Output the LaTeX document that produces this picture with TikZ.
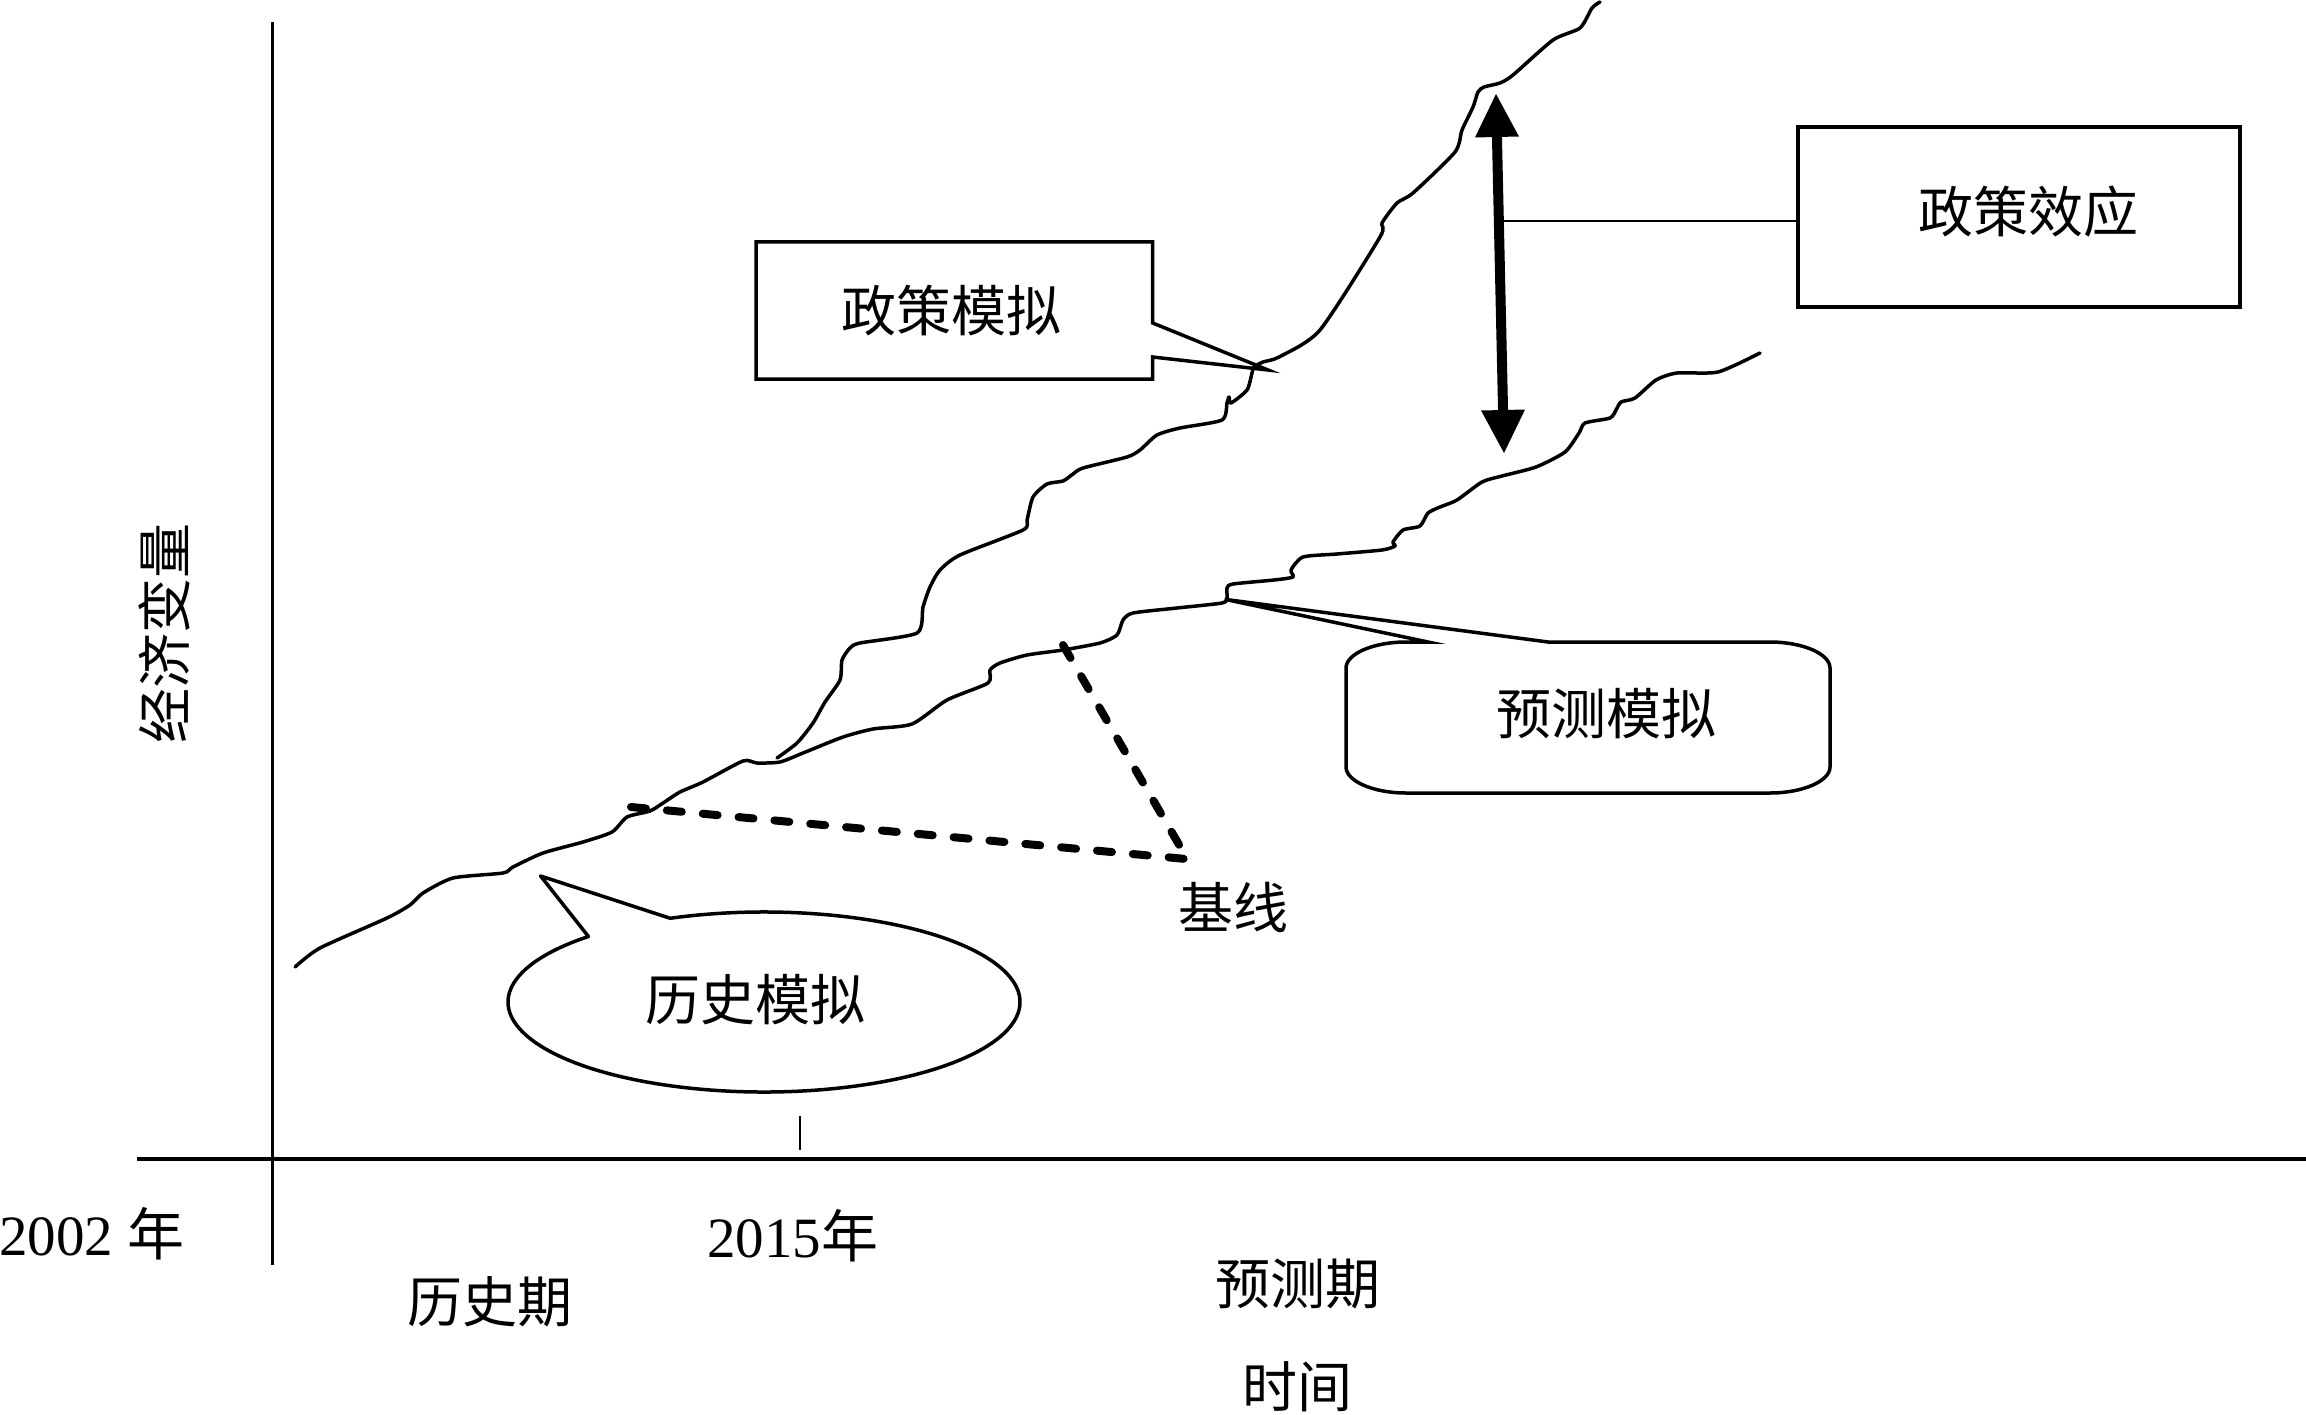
\documentclass[tikz,border=0pt]{standalone}
\usepackage{fontspec}
\setmainfont{Liberation Serif}
\newfontfamily\cjk{Noto Sans CJK SC}
\usetikzlibrary{arrows.meta,shapes.geometric,calc}
\begin{document}
\begin{tikzpicture}[x=1pt,y=-1pt,
  curve/.style={line width=3.5pt, line join=round, line cap=round},
  callout/.style={line width=3.5pt, line join=miter},
  cjklabel/.style={font=\cjk\fontsize{55}{60}\selectfont, inner sep=0pt},
  numlabel/.style={font=\fontsize{57}{60}\selectfont, inner sep=0pt},
  basedash/.style={line width=8pt, line cap=round, dash pattern=on 15pt off 21pt},
]
\useasboundingbox (0,0) rectangle (2306,1415);

% axes
\coordinate (ytop) at (272,22);
\coordinate (ybot) at (272,1265);
\coordinate (xl) at (137,1159);
\coordinate (xr) at (2306,1159);
\draw[line width=3pt] (ytop) -- (ybot);
\draw[line width=4.5pt] (xl) -- (xr);
\coordinate (tk1) at (800,1116);
\coordinate (tk2) at (800,1150);
\draw[line width=2.5pt] (tk1) -- (tk2);

% axis labels
\node[numlabel, anchor=base west] (y2002) at (-1,1255) {2002 {\cjk 年}};
\node[numlabel, anchor=base west] (y2015) at (707,1257) {2015{\cjk 年}};
\node[cjklabel] (histp) at (490,1302) {历史期};
\node[cjklabel] (forep) at (1298,1284) {预测期};
\node[cjklabel] (timel) at (1297,1387) {时间};
\node[cjklabel, rotate=90] (econ) at (164,633) {经济变量};
\node[cjklabel] (basel) at (1233,907) {基线};

% policy simulation callout
\draw[callout] (756,242) -- (1152.7,242) -- (1152.7,323) -- (1268,370) -- (1152.7,357) -- (1152.7,379) -- (756,379) -- cycle;
\node[cjklabel] (polsim) at (951,311) {政策模拟};

% policy effect box
\node[draw, line width=4pt, minimum width=442pt, minimum height=180pt, inner sep=0pt] (effbox) at (2019,217) {};
\node[cjklabel] (eff) at (2028,212) {政策效应};

% double arrow
\coordinate (atop) at (1496,94);
\coordinate (abot) at (1504,453);
\draw[line width=10pt, {Triangle[width=44pt,length=43pt,line width=0pt]}-{Triangle[width=44pt,length=43pt,line width=0pt]}] (atop) -- (abot);
\coordinate (amid) at (1502,221);
\draw[line width=2.5pt] (amid) -- (amid -| effbox.west);

% forecast simulation callout
\draw[callout] (1548,642) -- (1770,642) .. controls (1803,642) and (1830,654) .. (1830,668) -- (1830,767) .. controls (1830,781) and (1803,793) .. (1770,793) -- (1406,793) .. controls (1373,793) and (1346,781) .. (1346,767) -- (1346,668) .. controls (1346,654) and (1373,642) .. (1406,642) -- (1428,642) -- (1224.6,599.3) -- cycle;
\node[cjklabel] (forsim) at (1606,714) {预测模拟};

% history simulation callout (ellipse with pointer)
\coordinate (hcen) at (764,1002);
\coordinate (htip) at (540.6,876);
\coordinate (hb) at ($(hcen)+(248.5:256 and 90)$);
\draw[callout, line join=round] (hb)
  arc[start angle=248.5, end angle=586.7, x radius=256, y radius=90] -- (htip) -- cycle;
\node[cjklabel] (histsim) at (755,1000) {历史模拟};

% baseline dashed lines
\coordinate (b1) at (631,807);
\coordinate (b2) at (1186,859);
\coordinate (b3) at (1063,645);
\coordinate (b4) at (1185,855);
\draw[basedash] (b1) -- (b2);
\draw[basedash] (b3) -- (b4);

% lower curve
\draw[curve] plot[smooth, tension=0.4] coordinates {
(295,967) (320,948) (387,918) (410,905) (423,893) (453,878) (503,873) (513,867) (543,853) (583,842) (612,832) (627,817) (650,811) (663,803) (680,792) (703,782) (743,761) (757,763) (780,762) (803,753) (843,737) (873,729) (912,724) (947,700) (988,683) (990,670) (1000,663) (1027,655) (1063,650) (1100,643) (1117,635) (1123,620) (1133,613) (1177,608) (1222,603) (1227,598) (1227,588) (1233,584) (1274,580) (1293,577) (1291,570) (1303,557) (1337,554) (1382,550) (1395,546) (1393,542) (1403,530) (1420,526) (1428,513) (1440,507) (1457,500) (1482,482) (1502,476) (1536,467) (1565,452) (1579,433) (1585,423) (1610,418) (1616,410) (1621,402) (1635,398) (1656,380) (1677,373) (1718,372) (1760,353)};

% upper curve
\draw[curve] plot[smooth, tension=0.4] coordinates {
(777,758) (797,743) (813,723) (825,702) (840,680) (842,660) (850,648) (860,643) (917,633) (923,607) (930,587) (940,570) (960,555) (1023,530) (1027,520) (1033,497) (1047,484) (1063,481) (1073,474) (1083,468) (1127,457) (1140,450) (1157,435) (1180,428) (1222,420) (1227,403) (1229,397) (1231,403) (1247,390) (1252,373) (1254,367) (1263,362) (1279,357) (1320,330) (1380,237) (1382,223) (1397,203) (1413,193) (1455,152) (1462,130) (1473,107) (1478,92) (1484,87) (1500,83) (1513,75) (1553,40) (1580,28) (1592,8) (1600,2)};
\end{tikzpicture}
\end{document}
